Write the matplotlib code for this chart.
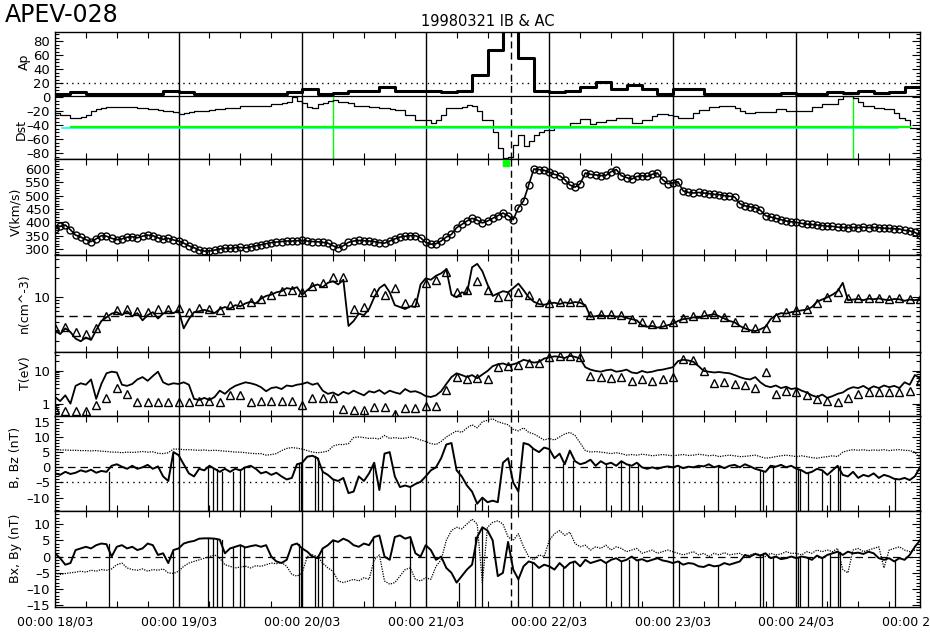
import numpy as np
import matplotlib
matplotlib.use('Agg')
import matplotlib.pyplot as plt
from matplotlib.ticker import (FixedLocator, MultipleLocator, NullFormatter,
                               FixedFormatter, FuncFormatter)

plt.rcParams['font.family'] = ['DejaVu Sans']

# ---------------- data (hours from 18/03 00:00) ----------------
day_labels = ["00:00 18/03", "00:00 19/03", "00:00 20/03", "00:00 21/03",
              "00:00 22/03", "00:00 23/03", "00:00 24/03", "00:00 25/03"]

# Ap, 3-hourly
Ap = [4, 7, 4, 4, 4, 4, 4, 9, 7, 4, 4, 4, 5, 5, 4, 7,
      12, 4, 6, 9, 9, 15, 9, 9, 9, 7, 9, 32, 67, 111, 56, 9,
      7, 9, 15, 22, 12, 18, 12, 5, 12, 12, 4, 4, 4, 4, 4, 6,
      4, 4, 7, 6, 9, 6, 7, 15]

# Dst, hourly
Dst = [-22, -25, -25, -30, -30, -28, -25, -20, -17, -16, -14, -14,
       -14, -14, -14, -14, -15, -16, -17, -17, -18, -19, -20, -21,
       -24, -22, -21, -20, -19, -19, -18, -17, -17, -16, -15, -15,
       -13, -12, -12, -12, -13, -13, -10, -10, -8, -7, 1, -5,
       -8, -14, -15, -10, -8, -5, -4, -7, -7, -8, -13, -13,
       -13, -14, -14, -16, -16, -17, -18, -18, -25, -26, -33, -33,
       -33, -36, -33, -26, -16, -15, -15, -14, -11, -12, -20, -33,
       -33, -49, -73, -87, -85, -68, -54, -70, -63, -54, -50, -47,
       -47, -43, -43, -43, -37, -37, -31, -31, -38, -35, -35, -33,
       -33, -30, -30, -30, -36, -36, -33, -33, -27, -24, -24, -26,
       -27, -30, -30, -30, -22, -18, -18, -14, -14, -12, -12, -12,
       -16, -20, -23, -23, -21, -21, -21, -21, -17, -17, -19, -19,
       -19, -19, -19, -14, -14, -10, -10, -10, -3, 2, 2, -1,
       -7, -13, -13, -16, -16, -17, -17, -22, -30, -33, -44, -44]

# Solar wind speed, hourly
V = [375, 385, 390, 372, 352, 345, 335, 328, 338, 350, 348, 340,
     335, 338, 344, 346, 342, 348, 352, 350, 342, 336, 340, 334,
     330, 322, 312, 305, 296, 292, 293, 296, 300, 303, 302, 305,
     306, 304, 308, 312, 316, 320, 324, 326, 328, 330, 330, 331,
     332, 330, 328, 327, 325, 322, 312, 305, 312, 325, 330, 332,
     331, 330, 328, 324, 322, 330, 338, 345, 348, 350, 350, 342,
     325, 318, 320, 330, 345, 355, 380, 392, 405, 415, 408, 398,
     405, 415, 425, 435, 425, 410, 455, 480, 540, 600, 598, 595,
     588, 580, 575, 560, 540, 532, 545, 585, 580, 578, 575, 576,
     590, 598, 575, 568, 562, 572, 575, 572, 580, 585, 560, 545,
     548, 552, 518, 512, 510, 512, 510, 508, 505, 504, 500, 498,
     495, 470, 462, 458, 455, 445, 425, 420, 415, 410, 405, 402,
     400, 396, 393, 392, 390, 388, 386, 385, 382, 381, 380, 381,
     380, 382, 380, 381, 380, 378, 377, 376, 375, 370, 368, 362,
     352]

# density, hourly (line) and 2-hourly (triangles)
n_line = [3.0, 2.6, 3.2, 2.8, 2.2, 2.0, 2.3, 2.1, 3.0, 4.2, 4.8, 5.5,
          5.8, 5.2, 6.0, 5.0, 5.6, 4.3, 5.2, 5.8, 4.6, 5.5, 6.0, 5.6,
          6.2, 3.2, 4.5, 5.8, 6.0, 6.3, 6.0, 5.6, 6.5, 7.0, 6.6, 7.5,
          7.2, 8.0, 8.5, 8.0, 9.5, 10.5, 11, 12, 12.5, 14, 13.5, 14.5,
          11, 13, 15, 16, 14.5, 17, 18, 16, 19, 3.5, 4.2, 5.5,
          5.2, 6.5, 10, 14, 16, 12, 7.5, 7, 6.5, 7.2, 7.0, 16,
          20, 19, 22, 24, 28, 11, 10, 12, 11.5, 30, 34, 26,
          16, 10.5, 11.5, 12.5, 12, 14, 16.5, 13, 10, 8.5, 7.8, 7.6,
          8.0, 8.2, 7.8, 8.3, 8.0, 8.4, 8.2, 7.5, 4.9, 5.0, 5.2, 5.0,
          5.1, 4.9, 5.0, 4.7, 4.5, 4.3, 3.6, 3.4, 3.5, 3.3, 3.4, 3.6,
          3.8, 4.2, 4.5, 4.6, 4.8, 4.7, 5.0, 5.2, 5.4, 5.0, 4.6, 4.2,
          4.0, 3.5, 3.2, 3.0, 2.9, 3.1, 3.4, 4.5, 5.2, 5.6, 5.5, 5.8,
          6.0, 6.2, 6.4, 7.0, 8.5, 9.2, 10, 11, 12.5, 17, 9.0, 9.2,
          9.4, 9.0, 9.5, 9.3, 9.6, 9.2, 9.0, 9.4, 9.3, 8.8, 9.2, 9.0,
          9.4]
n_tri = [3.3, 3.4, 2.8, 2.6, 3.2, 5.0, 6.3, 6.5, 6.0, 5.8, 6.4, 6.5,
         6.8, 5.8, 6.8, 6.5, 6.2, 7.5, 7.8, 8.5, 9.5, 11, 12.5, 13,
         12, 15, 17, 21, 21, 6.5, 7, 12, 11, 14, 8, 8.5,
         17, 19, 25, 12, 13, 18, 13, 10, 10.5, 12, 11, 8.5,
         8, 8.5, 8.3, 8.3, 5.3, 5.4, 5.5, 5.2, 4.6, 4.0, 3.8, 3.8,
         4.0, 4.7, 5.0, 5.4, 5.5, 4.8, 4.0, 3.4, 3.2, 3.2, 4.8, 5.8,
         6.3, 6.6, 8.0, 10, 12, 9.6, 9.8, 9.6, 9.8, 9.5, 9.6, 9.3,
         9.5]

# temperature, hourly (line) and 2-hourly (triangles)
T_line = [1.6, 1.2, 1.8, 1.0, 3.5, 4.2, 3.8, 5.5, 1.4, 4.0, 8.5, 9.5,
          9.0, 3.8, 3.5, 4.0, 5.5, 6.5, 5.0, 7.0, 9.5, 4.5, 3.8, 4.2,
          4.0, 4.5, 3.8, 1.4, 1.3, 1.5, 1.3, 1.6, 2.5, 2.0, 2.8, 3.5,
          4.0, 4.5, 4.2, 3.8, 3.2, 2.4, 3.0, 3.2, 2.8, 3.6, 3.4, 3.8,
          4.0, 4.5, 3.8, 4.2, 2.5, 2.0, 2.2, 1.8, 2.3, 2.0, 2.5, 2.1,
          1.8, 2.4, 2.2, 2.6, 2.0, 2.5, 2.2, 2.0, 2.8, 2.3, 2.4, 2.1,
          1.7, 1.6, 1.8, 2.4, 4.0, 6.5, 8.5, 7.5, 6.5, 7.5, 6.0, 7.8,
          10, 14, 16, 17, 15, 16, 18, 22, 20, 18, 19, 24,
          26, 28, 27, 25, 29, 27, 24, 13, 11, 10, 9.5, 10.5,
          11, 9.5, 10, 11, 9, 8.5, 10, 9, 9.5, 10.5, 11, 12,
          13, 20, 22, 21, 19, 14, 10, 9.5, 9.0, 9.3, 8.8, 8.5,
          7.5, 6.5, 5.8, 5.5, 6.5, 4.5, 3.5, 3.2, 3.6, 3.0, 3.3, 2.8,
          3.0, 2.5, 2.2, 1.8, 1.6, 1.9, 1.5, 1.7, 2.0, 2.2, 2.8, 3.2,
          3.0, 3.5, 2.8, 3.4, 3.0, 3.6, 3.2, 3.5, 3.0, 4.5, 3.8, 7.5,
          6.0]
T_tri = [0.7, 0.6, 0.6, 0.6, 0.9, 1.5, 3.0, 2.0, 1.1, 1.1, 1.15, 1.1,
         1.1, 1.1, 1.2, 1.2, 1.1, 1.9, 1.9, 1.1, 1.2, 1.2, 1.2, 1.2,
         0.9, 1.5, 1.5, 1.5, 0.7, 0.65, 0.65, 0.8, 0.8, 0.5, 0.75, 0.75,
         0.85, 0.85, 2.6, 6.5, 5.5, 6.0, 5.5, 13, 14, 15, 18, 17,
         26, 28, 28, 26, 7, 6.5, 6.0, 6.5, 5.0, 5.5, 5.0, 5.5,
         6.5, 24, 22, 10, 4.2, 4.5, 4.0, 3.8, 3.0, 9.0, 2.0, 2.5,
         2.3, 1.8, 1.4, 1.2, 1.1, 1.5, 2.0, 2.2, 2.2, 2.3, 2.2, 2.4,
         5.0]

# IMF, hourly
Bz = [-2, -2.5, -1.5, -2.2, -1.8, -1.0, -1.5, -0.8, -1.8, -1.2, -1.5, 0.5,
      1.0, 0.2, -0.5, 0.5, -0.5, 0.0, 0.8, -0.5, 0.3, -3.0, -4.5, 5.0,
      4.0, 1.0, -2.0, -3.0, -0.5, -1.0, 0.5, -0.5, -1.5, -0.5, -1.5, -0.5,
      -1.0, 0.0, 0.5, -0.5, -2.0, -1.5, -2.5, -1.8, -3.0, -4.0, -3.5, 1.0,
      1.5, 3.5, 3.8, 3.0, -1.5, -2.5, -4.0, -4.5, -3.5, -8.5, -8.0, -3.0,
      -4.5, -2.0, 1.5, -7.5, 4.5, 5.0, -3.0, -6.5, -6.0, -6.5, -5.5, -4.8,
      -3.0, -1.0, 0.0, 3.0, 7.5, 8.0, -1.0, -3.0, -6.0, -8.0, -12.0, -10.0,
      -11.5, -11.0, -11.5, 1.5, 3.0, -5.0, -8.0, 8.0, 7.5, 6.0, 5.0, 6.5,
      6.0, 3.0, 4.5, 1.0, 5.5, 2.0, 1.0, 1.5, 2.5, 0.5, 2.0, 1.0,
      1.5, 0.5, 2.0, 1.0, 0.5, 1.5, 0.0, -0.5, 0.0, -0.5, 0.0, 0.3,
      0.0, 0.5, -0.3, 0.2, 0.0, 0.5, 0.3, 1.0, 0.0, 0.5, -0.3, 0.5,
      0.8, 0.0, 1.0, 0.3, -0.5, -1.0, -1.5, 0.5, 0.2, 0.8, 0.0, 0.5,
      -0.5, -1.0, -2.0, -1.5, -0.5, -1.0, -2.5, -1.0, 0.5, -2.5, -3.0, -1.5,
      -3.5, -2.5, -3.0, -2.0, -3.5, -2.5, -3.0, -3.8, -4.0, -3.5, -4.2, -3.0,
      0.0]
Bt = [5.8, 5.7, 5.7, 5.6, 5.6, 5.5, 5.5, 5.4, 5.5, 5.3, 5.2, 5.0,
      5.0, 4.8, 5.0, 4.9, 5.0, 5.2, 5.0, 5.1, 4.6, 4.5, 4.8, 6.0,
      6.0, 5.8, 5.8, 5.7, 5.6, 5.7, 5.5, 5.6, 5.5, 5.3, 5.2, 5.0,
      5.0, 4.8, 4.6, 4.5, 4.5, 4.0, 4.2, 4.5, 5.5, 6.2, 6.5, 6.3,
      6.0, 5.5, 5.0, 4.8, 5.0, 5.3, 7.0, 7.5, 7.5, 7.8, 9.8, 10.0,
      9.8, 9.5, 9.6, 9.3, 10.5, 9.5, 9.8, 9.5, 9.6, 10.0, 9.6, 9.0,
      8.5, 7.8, 7.5, 8.5, 10.0, 11.0, 12.0, 11.5, 13.0, 14.0, 13.0, 15.0,
      15.5, 16.0, 15.0, 14.5, 14.0, 12.5, 12.0, 13.0, 11.5, 11.0, 10.0, 9.0,
      9.5, 9.0, 10.0, 11.0, 11.5, 10.5, 8.0, 5.5, 5.0, 5.2, 5.0, 4.8,
      4.5, 4.8, 4.5, 4.0, 4.2, 4.0, 4.3, 4.1, 3.8, 4.0, 4.2, 4.0,
      3.8, 4.0, 4.2, 3.9, 4.0, 4.3, 4.1, 3.8, 4.0, 3.5, 3.8, 4.0,
      3.8, 3.5, 3.6, 3.8, 4.0, 3.5, 3.0, 3.2, 3.5, 3.8, 4.0, 3.8,
      3.5, 3.8, 3.5, 3.2, 3.0, 3.3, 3.5, 3.8, 3.5, 5.0, 5.5, 5.8,
      5.6, 5.8, 5.5, 5.7, 5.6, 5.8, 5.5, 5.7, 5.8, 5.6, 5.5, 5.0,
      3.0]
Bx = [1.0, -0.5, -2.5, -2.0, 2.0, 2.5, 3.0, 2.5, 3.5, 4.0, 3.8, 0.0,
      3.0, 3.5, 2.5, 3.0, 2.0, 2.5, 4.0, 3.5, 0.5, 1.0, -2.0, 2.0,
      2.5, 4.0, 4.5, 4.8, 5.5, 5.6, 5.6, 5.5, 5.2, 1.0, 2.5, 3.0,
      3.5, 2.8, 3.2, 3.5, 3.0, 3.5, 0.0, -1.5, -2.0, -1.0, 3.5, 4.0,
      2.5, 1.5, 0.0, -0.5, 2.5, 3.5, 5.0, 4.5, 5.5, 4.8, 3.5, 3.0,
      4.0, 3.5, 6.0, 6.5, 0.0, -1.0, 6.0, 6.5, 5.5, 6.0, 1.0, 0.0,
      3.5, 2.0, -1.0, 0.0, -3.5, -5.0, -8.0, -6.0, -4.0, -2.5, 6.0, 9.0,
      8.0, 5.0, -6.0, -5.0, 4.5, -4.0, -7.0, -3.0, -1.5, -2.0, -3.5, -2.5,
      -3.0, -4.0, -2.0, -3.5, -2.0, -1.5, -3.0, -1.0, -2.0, -1.5, -1.0, -2.0,
      -1.0, -0.5, -1.5, -1.0, 0.0, -1.2, -0.8, -1.5, -1.0, -0.5, -1.2, -1.5,
      -2.0, -1.5, -2.5, -2.0, -2.2, -3.0, -3.2, -2.5, -3.0, -2.8, -2.0, -2.5,
      -2.0, -1.5, 0.5, 0.0, 0.8, 0.3, 1.0, -0.5, 0.0, -0.8, -0.5, 0.0,
      -0.5, 0.0, -0.3, -1.0, 0.3, -0.5, 0.5, 1.0, 1.5, 0.5, 1.5, 1.0,
      1.2, 0.8, 1.5, 1.0, -0.5, -1.0, -0.5, -1.5, -0.5, -1.0, 0.5, 3.0,
      5.0]
By = [-5.0, -5.5, -5.2, -5.0, -4.8, -4.5, -4.8, -4.2, -4.5, -4.0, -4.2, -3.8,
      -2.5, -2.0, -3.5, -4.0, -4.2, -3.8, -4.5, -4.0, -4.2, -3.8, -5.0, -5.2,
      -4.5, -3.0, -2.0, -1.5, -1.0, -0.5, 0.0, 0.5, -0.5, -2.5, -3.0, -3.5,
      -3.2, -3.0, -3.5, -2.8, -3.0, -2.5, -2.0, -2.2, -1.8, -3.0, -5.5, -6.0,
      -5.0, 0.0, 0.5, 0.0, -2.0, -3.5, -4.5, -7.5, -8.0, -7.5, -7.0, -7.5,
      -6.5, -7.0, -1.0, 0.5, -7.5, -8.5, -8.0, -6.0, -4.0, -3.5, -7.0, -7.5,
      -6.5, -7.0, -3.0, -1.0, 5.0, 8.0, 9.0, 8.5, 10.0, 11.5, 10.0, -8.0,
      9.0, 10.5, 11.0, 10.0, 6.0, 5.0, 7.0, 3.0, 0.0, -1.0, 0.5, 0.0,
      5.0, 7.0, 8.0, 6.5, 7.5, 4.0, 3.0, 3.5, 2.0, 3.0, 2.5, 3.5,
      2.0, 3.0, 2.5, 1.5, 2.0, 2.5, 1.0, 1.5, 2.0, 1.0, 1.5, 2.0,
      1.5, 1.0, 0.5, 1.0, 1.5, 0.5, 1.0, 0.0, 1.0, 0.5, 1.2, 0.5,
      0.8, 1.0, 0.0, 0.5, 1.0, 0.5, 0.0, 1.0, 0.5, 0.8, 1.5, 1.0,
      1.0, 0.5, 1.5, 1.0, 2.0, 1.5, 2.0, 1.5, 2.5, -4.0, -5.0, 2.0,
      2.5, 1.5, 2.0, 2.5, 3.0, -3.5, 2.0, 2.5, 3.0, 2.0, 1.5, 2.0,
      2.0]

# times of data gaps (fill values) in the magnetic field record
gap_hours = [10.5, 23.0, 29.8, 30.7, 31.4, 32.4, 34.5, 35.9, 36.7, 47.3, 47.8,
             50.5, 51.1, 51.8, 54.0, 61.8, 69.0, 78.5, 81.6, 82.9, 90.0, 92.6,
             98.7, 100.7, 107.1, 110.0, 111.4, 113.3, 121.1, 128.8, 136.9,
             137.6, 139.5, 144.4, 144.7, 146.3, 148.9, 150.5, 152.1, 152.5, 163.1]

event_time = 88.6           # dashed line
green_marks = [54.0, 155.0] # green vertical lines in Dst panel
green_square = (87.6, 622)
green_level = -42
cyan_level = -44

# ---------------- figure ----------------
W, H = 930, 640
fig = plt.figure(figsize=(W / 100, H / 100), dpi=100)
X0, X1 = 55, 920
bounds = [(32, 159), (159, 255), (255, 352), (352, 416), (416, 511), (511, 607)]
axes = []
for top, bot in bounds:
    ax = fig.add_axes([X0 / W, 1 - bot / H, (X1 - X0) / W, (bot - top) / H])
    axes.append(ax)

t1 = np.arange(len(V))
t2 = np.arange(len(n_tri)) * 2
tD = np.arange(len(Dst) + 1)
tA = np.arange(len(Ap) + 1) * 3

dash_fmt = FuncFormatter(lambda v, p: ('%g' % v).replace('-', '\u2013'))

for i, ax in enumerate(axes):
    ax.set_xlim(0, 168)
    ax.set_xticks(np.arange(0, 169, 24))
    ax.set_xticks(np.arange(0, 169, 6), minor=True)
    ax.tick_params(axis='x', which='major', length=0, labelbottom=(i == 5),
                   labelsize=9, pad=6)
    ax.tick_params(axis='x', which='minor', direction='in', length=4, width=0.8,
                   top=True, bottom=True)
    ax.tick_params(axis='y', which='both', direction='in', left=True, right=True,
                   labelsize=9.5, pad=3.5)
    ax.tick_params(axis='y', which='major', length=6, width=0.8)
    ax.tick_params(axis='y', which='minor', length=3, width=0.8)
    for s in ax.spines.values():
        s.set_linewidth(1.0)
    for d in range(24, 168, 24):
        ax.axvline(d, color='k', lw=1.0, zorder=1)
    ax.axvline(event_time, color='k', lw=1.0, dashes=(5, 3), zorder=3)

axes[5].set_xticklabels(day_labels)

# Panel 1: Ap / Dst
ax = axes[0]
ax.set_ylim(-88, 93)
ax.yaxis.set_major_locator(FixedLocator([-80, -60, -40, -20, 0, 20, 40, 60, 80]))
ax.yaxis.set_major_formatter(dash_fmt)
ax.yaxis.set_minor_locator(MultipleLocator(5))
ax.axhline(20, color='k', lw=1.0, ls=(0, (1, 3)))
ax.axhline(2, color='k', lw=0.9)
ax.plot(tA, Ap + [Ap[-1]], drawstyle='steps-post', color='k', lw=2.2, zorder=4)
ax.plot(tD, Dst + [Dst[-1]], drawstyle='steps-post', color='k', lw=0.9, zorder=4)
ax.plot([1.3, 163.7], [cyan_level, cyan_level], color='#00ffff', lw=1.2, zorder=5)
ax.plot([3.2, 166.1], [green_level, green_level], color='#00ff00', lw=1.6, zorder=5)
for g in green_marks:
    ax.plot([g, g], [0, -88], color='#00ff00', lw=1.0, zorder=2)

# Panel 2: V
ax = axes[1]
ax.set_ylim(277.5, 637.5)
ax.yaxis.set_major_locator(MultipleLocator(50))
ax.yaxis.set_minor_locator(MultipleLocator(10))
ax.plot(t1, V, color='k', lw=1.2, zorder=4)
ax.plot(t1, V, ls='none', marker='o', ms=5, mfc='none', mec='k', mew=1.0, zorder=4)
ax.plot([green_square[0]], [green_square[1]], marker='s', ms=5, color='#00ff00',
        mec='#00ff00', zorder=6, clip_on=False)

# Panel 3: n
ax = axes[2]
ax.set_yscale('log')
ax.set_ylim(1.35, 47)
ax.yaxis.set_major_locator(FixedLocator([10]))
ax.yaxis.set_major_formatter(FixedFormatter(['10']))
ax.yaxis.set_minor_locator(FixedLocator([2, 3, 4, 5, 6, 7, 8, 9, 20, 30, 40]))
ax.yaxis.set_minor_formatter(NullFormatter())
ax.axhline(5, color='k', lw=1.0, dashes=(6, 4))
ax.plot(t1, n_line, color='k', lw=1.3, zorder=4)
ax.plot(t2, n_tri, ls='none', marker='^', ms=6, mfc='none', mec='k', mew=1.0, zorder=4)

# Panel 4: T
ax = axes[3]
ax.set_yscale('log')
ax.set_ylim(0.42, 38)
ax.yaxis.set_major_locator(FixedLocator([1, 10]))
ax.yaxis.set_major_formatter(FixedFormatter(['1', '10']))
ax.yaxis.set_minor_locator(FixedLocator([0.5, 0.6, 0.7, 0.8, 0.9, 2, 3, 4, 5, 6, 7, 8, 9, 20, 30]))
ax.yaxis.set_minor_formatter(NullFormatter())
ax.plot(t1, T_line, color='k', lw=1.3, zorder=4)
ax.plot(t2, T_tri, ls='none', marker='^', ms=6, mfc='none', mec='k', mew=1.0, zorder=4)

# Panel 5: B, Bz
ax = axes[4]
ax.set_ylim(-14.4, 16.9)
ax.yaxis.set_major_locator(MultipleLocator(5))
ax.yaxis.set_major_formatter(dash_fmt)
ax.yaxis.set_minor_locator(MultipleLocator(1))
ax.axhline(0, color='k', lw=0.9, dashes=(6, 4))
ax.axhline(-5, color='k', lw=1.0, ls=(0, (1, 3)))
ax.plot(t1, Bt, color='k', lw=0.9, ls=(0, (1, 1)), zorder=4)
ax.plot(t1, Bz, color='k', lw=1.4, zorder=4)
for g in gap_hours:
    ax.plot([g, g], [Bz[int(round(g))], -20], color='k', lw=0.9, zorder=4)

# Panel 6: Bx, By
ax = axes[5]
ax.set_ylim(-15.5, 14)
ax.yaxis.set_major_locator(MultipleLocator(5))
ax.yaxis.set_major_formatter(dash_fmt)
ax.yaxis.set_minor_locator(MultipleLocator(1))
ax.axhline(0, color='k', lw=0.9, dashes=(6, 4))
ax.plot(t1, By, color='k', lw=0.9, ls=(0, (1, 1)), zorder=4)
ax.plot(t1, Bx, color='k', lw=1.4, zorder=4)
for g in gap_hours:
    ax.plot([g, g], [Bx[int(round(g))], -20], color='k', lw=0.9, zorder=4)

# labels
def ylab(x, y, s):
    fig.text(x / W, 1 - y / H, s, rotation=90, ha='center', va='center', fontsize=9)

ylab(24, 62, 'Ap')
ylab(21, 129, 'Dst')
ylab(16, 212, 'V(km/s)')
ylab(24, 303, 'n(cm^-3)')
ylab(25, 373, 'T(eV)')
ylab(15, 457, 'B, Bz (nT)')
ylab(15, 548, 'Bx, By (nT)')

fig.text(5 / W, 1 - 3 / H, 'APEV-028', ha='left', va='top', fontsize=17)
fig.text(488 / W, 1 - 21 / H, '19980321 IB & AC', ha='center', va='center', fontsize=10.5)

fig.savefig('out.png', dpi=100)
